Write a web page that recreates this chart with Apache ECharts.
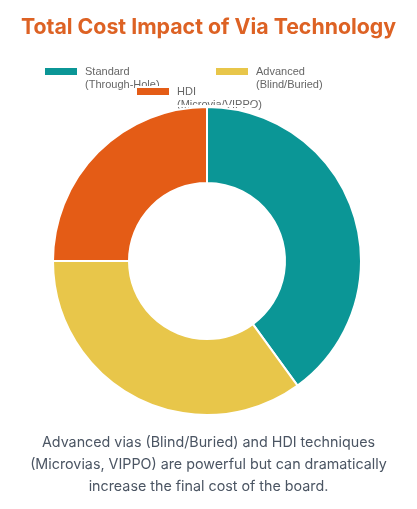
<!DOCTYPE html>
<html>
<head>
<meta charset="utf-8">
<script src="https://cdn.jsdelivr.net/npm/echarts@6/dist/echarts.min.js"></script>
<style>
html,body{margin:0;padding:0;background:#fff;}
#chart{width:417px;height:509px;}
</style>
</head>
<body>
<div id="chart"></div>
<script>
const titleText = 'Total Cost Impact of Via Technology';
const captionText = 'Advanced vias (Blind/Buried) and HDI techniques\n(Microvias, VIPPO) are powerful but can dramatically\nincrease the final cost of the board.';
const categories = ['Standard\n(Through-Hole)', 'Advanced\n(Blind/Buried)', 'HDI\n(Microvia/VIPPO)'];
const values = [40, 35, 25];
const colors = ['#0b9696', '#e8c64a', '#e45c16'];

const chart = echarts.init(document.getElementById('chart'), null, {renderer: 'canvas'});

const legendPos = [
  {left: 43, top: 52},
  {left: 214, top: 52},
  {left: 135, top: 72}
];

const option = {
  animation: false,
  title: [
    {
      text: titleText,
      left: 'center',
      top: 17,
      padding: 0,
      textStyle: {
        fontFamily: 'Inter',
        fontSize: 21.3,
        fontWeight: 'bold',
        color: '#dd6224'
      }
    },
    {
      text: captionText,
      left: 'center',
      top: 432,
      padding: 0,
      textStyle: {
        fontFamily: 'Inter',
        fontSize: 14.3,
        fontWeight: 'normal',
        lineHeight: 22,
        color: '#4b5563'
      }
    }
  ],
  legend: categories.map((c, i) => ({
    data: [c],
    left: legendPos[i].left,
    top: legendPos[i].top,
    padding: 0,
    icon: 'rect',
    itemWidth: 34,
    itemHeight: 9,
    selectedMode: false,
    z: 1,
    formatter: function (name) { return '\n' + name; },
    textStyle: {
      fontFamily: 'Liberation Sans',
      fontSize: 11,
      lineHeight: 13,
      color: '#666666',
      padding: [0, 0, 0, 2]
    }
  })),
  graphic: [
    {
      type: 'rect',
      z: 100,
      shape: {x: 165, y: 105, width: 90, height: 2},
      style: {fill: '#ffffff'},
      silent: true
    }
  ],
  series: [
    {
      type: 'pie',
      center: [207, 261],
      radius: [78, 154],
      startAngle: 90,
      clockwise: true,
      label: {show: false},
      labelLine: {show: false},
      emphasis: {disabled: true},
      itemStyle: {borderColor: '#ffffff', borderWidth: 2},
      data: categories.map((c, i) => ({
        name: c,
        value: values[i],
        itemStyle: {color: colors[i]}
      }))
    }
  ]
};
chart.setOption(option);
</script>
</body>
</html>
